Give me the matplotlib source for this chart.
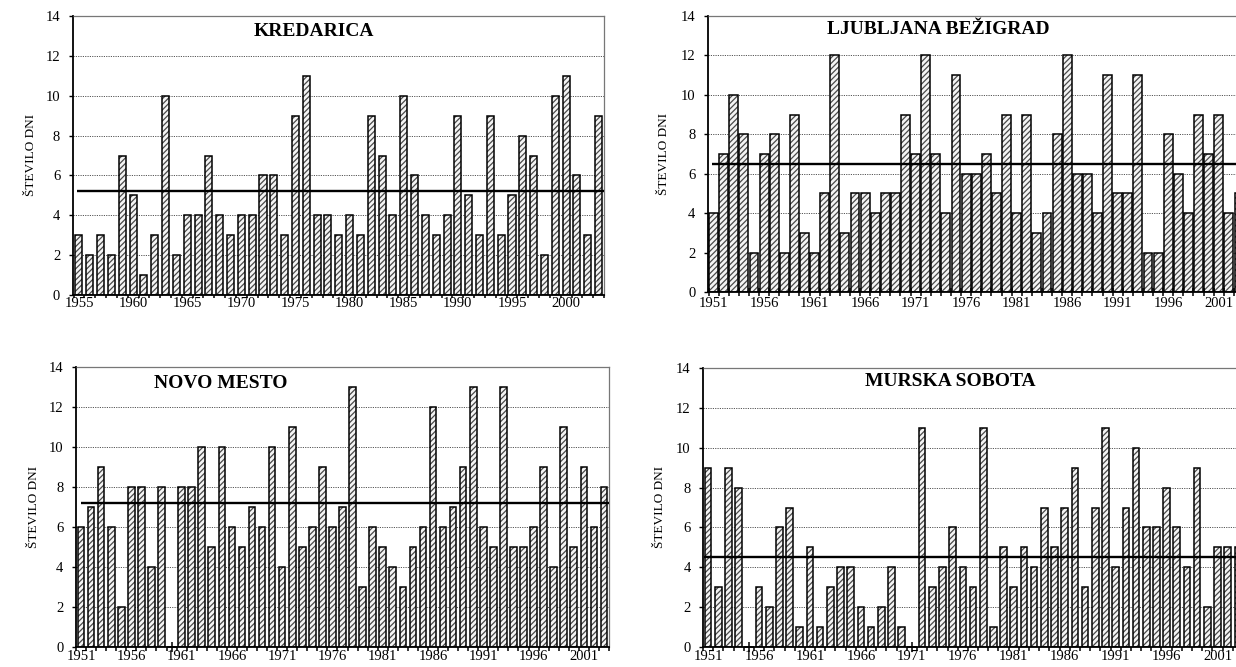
import matplotlib
matplotlib.use("Agg")
import matplotlib.pyplot as plt
import numpy as np

plt.rcParams['font.family'] = ['Liberation Serif', 'DejaVu Serif']
plt.rcParams['hatch.linewidth'] = 0.9

# ---------------- data ----------------
kredarica_years = list(range(1955, 2004))
kredarica_vals = [3, 2, 3, 2, 7, 5, 1, 3, 10, 2, 4, 4, 7, 4, 3, 4, 4, 6, 6, 3,
                  9, 11, 4, 4, 3, 4, 3, 9, 7, 4, 10, 6, 4, 3, 4, 9, 5, 3, 9, 3,
                  5, 8, 7, 2, 10, 11, 6, 3, 9]
kredarica_mean = 5.2

ljubljana_years = list(range(1951, 2004))
ljubljana_vals = [4, 7, 10, 8, 2, 7, 8, 2, 9, 3, 2, 5, 12, 3, 5, 5, 4, 5, 5, 9,
                  7, 12, 7, 4, 11, 6, 6, 7, 5, 9, 4, 9, 3, 4, 8, 12, 6, 6, 4, 11,
                  5, 5, 11, 2, 2, 8, 6, 4, 9, 7, 9, 4, 5]
ljubljana_mean = 6.5

novo_years = list(range(1951, 2004))
novo_vals = [6, 7, 9, 6, 2, 8, 8, 4, 8, 0, 8, 8, 10, 5, 10, 6, 5, 7, 6, 10,
             4, 11, 5, 6, 9, 6, 7, 13, 3, 6, 5, 4, 3, 5, 6, 12, 6, 7, 9, 13,
             6, 5, 13, 5, 5, 6, 9, 4, 11, 5, 9, 6, 8]
novo_mean = 7.2

murska_years = list(range(1951, 2004))
murska_vals = [9, 3, 9, 8, 0, 3, 2, 6, 7, 1, 5, 1, 3, 4, 4, 2, 1, 2, 4, 1,
               0, 11, 3, 4, 6, 4, 3, 11, 1, 5, 3, 5, 4, 7, 5, 7, 9, 3, 7, 11,
               4, 7, 10, 6, 6, 8, 6, 4, 9, 2, 5, 5, 5]
murska_mean = 4.5

titles = ["KREDARICA", "LJUBLJANA BEŽIGRAD", "NOVO MESTO", "MURSKA SOBOTA"]
ylabel = "ŠTEVILO DNI"
yticks = [0, 2, 4, 6, 8, 10, 12, 14]

W, H = 1236, 667
fig = plt.figure(figsize=(W / 100, H / 100), dpi=100)


def px_rect(left, top, right, bottom):
    return [left / W, 1 - bottom / H, (right - left) / W, (bottom - top) / H]


panels = [
    dict(years=kredarica_years, vals=kredarica_vals, mean=kredarica_mean,
         rect=px_rect(72.7, 16, 604, 295), xlim=(-0.58, 48.48), width=0.65,
         title=titles[0], tpos=(314, 31), ylab=(31, 155), mstart=-0.2,
         tickdir='out', ticklen=2.5, labpad=1.5),
    dict(years=ljubljana_years, vals=ljubljana_vals, mean=ljubljana_mean,
         rect=px_rect(708, 16, 1244, 292), xlim=(-0.55, 52.5), width=0.88,
         title=titles[1], tpos=(938, 29), ylab=(664, 154), mstart=-0.15,
         tickdir='inout', ticklen=6, labpad=3.5),
    dict(years=novo_years, vals=novo_vals, mean=novo_mean,
         rect=px_rect(76, 367, 609, 647), xlim=(-0.5, 52.5), width=0.66,
         title=titles[2], tpos=(221, 383), ylab=(34, 507), mstart=-0.05,
         tickdir='out', ticklen=3, labpad=2.5),
    dict(years=murska_years, vals=murska_vals, mean=murska_mean,
         rect=px_rect(703, 368, 1243, 647), xlim=(-0.46, 52.5), width=0.65,
         title=titles[3], tpos=(950, 382), ylab=(660, 507), mstart=-0.4,
         tickdir='out', ticklen=3, labpad=2.5),
]

for p in panels:
    ax = fig.add_axes(p['rect'])
    n = len(p['years'])
    x = np.arange(n)
    vals = np.array(p['vals'])

    ax.set_ylim(0, 14)
    ax.set_xlim(*p['xlim'])
    ax.set_yticks(yticks)
    ax.set_yticklabels([str(v) for v in yticks], fontsize=10.5)
    for v in yticks[1:-1]:
        ax.axhline(v, color='#555555', lw=0.7, ls=(0, (1.2, 1.2)), zorder=1)

    # hatched bars
    ax.bar(x, vals, width=p['width'], color='#f4f4f4', edgecolor='#4a4a4a',
           hatch='//////', linewidth=0, zorder=2)
    ax.bar(x, vals, width=p['width'], fill=False, edgecolor='black',
           linewidth=1.1, zorder=3)

    zeros = x[vals == 0]
    ax.plot(zeros, np.zeros(len(zeros)), ls='none', marker='+', ms=7,
            mew=1.1, color='black', clip_on=False, zorder=5)

    ax.hlines(p['mean'], p['mstart'], p['xlim'][1], color='black', lw=1.7,
              zorder=4)

    # x ticks
    lab_idx = [i for i, y in enumerate(p['years']) if (y - p['years'][0]) % 5 == 0]
    ax.set_xticks(lab_idx)
    ax.set_xticklabels([str(p['years'][i]) for i in lab_idx], fontsize=10.5)
    ax.tick_params(axis='x', which='major', length=0, pad=p['labpad'])
    ax.set_xticks(np.arange(-0.5, n, 1.0), minor=True)
    ax.tick_params(axis='x', which='minor', direction=p['tickdir'],
                   length=p['ticklen'], width=1.1, color='black')
    ax.tick_params(axis='y', which='major', direction='out', length=3,
                   width=1.0, pad=6)

    for s in ['top', 'right']:
        ax.spines[s].set_color('#777777')
        ax.spines[s].set_linewidth(0.9)
    for s in ['left', 'bottom']:
        ax.spines[s].set_color('black')
        ax.spines[s].set_linewidth(1.3)
    ax.set_axisbelow(False)

    fig.text(p['tpos'][0] / W, 1 - p['tpos'][1] / H, p['title'],
             fontsize=14, fontweight='bold', ha='center', va='center')
    fig.text(p['ylab'][0] / W, 1 - p['ylab'][1] / H, ylabel, fontsize=9.5,
             rotation=90, ha='center', va='center')

fig.savefig("out.png", dpi=100)
